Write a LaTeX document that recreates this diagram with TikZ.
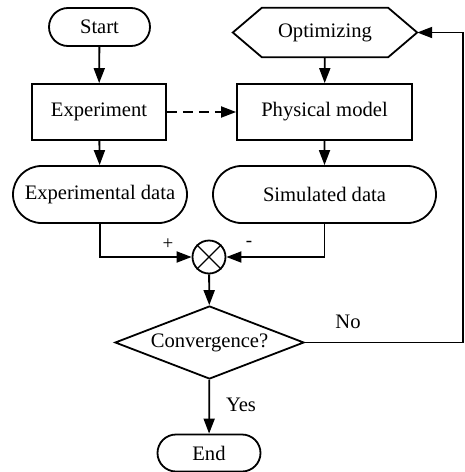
\documentclass[tikz,border=0pt]{standalone}
\usepackage{fontspec}
\setmainfont{Liberation Serif}
\usetikzlibrary{arrows.meta,shapes.misc,shapes.geometric}
\tikzset{
  base/.style={draw, line width=1.8pt, inner sep=0pt, font=\fontsize{20.6}{24}\selectfont},
  pill/.style={base, rounded rectangle},
  boxnode/.style={base, rectangle},
  flow/.style={line width=1.8pt, -{Triangle[length=15pt,width=11pt]}},
  lbl/.style={font=\fontsize{20.6}{24}\selectfont, inner sep=0pt},
  sgn/.style={font=\fontsize{19}{22}\selectfont, inner sep=0pt}
}
\begin{document}
\begin{tikzpicture}[x=1pt,y=-1pt]
\useasboundingbox (0,0) rectangle (464,472);

% terminals and process boxes
\node[pill, minimum width=101pt, minimum height=38pt] (start) at (99.5,27) {Start};
\node[boxnode, minimum width=134pt, minimum height=56pt] (exp) at (99,112) {Experiment};
\node[pill, minimum width=174pt, minimum height=57pt] (expdata) at (100,194.5) {Experimental data};

\node[lbl, minimum width=184pt, minimum height=49pt] (opt) at (325,32.5) {Optimizing};
\draw[line width=1.8pt, line join=miter]
  (opt.west) -- ([xshift=29pt]opt.north west) -- ([xshift=-29pt]opt.north east)
  -- (opt.east) -- ([xshift=-29pt]opt.south east) -- ([xshift=29pt]opt.south west) -- cycle;
\node[boxnode, minimum width=175pt, minimum height=56pt] (phys) at (324.5,112) {Physical model};
\node[pill, minimum width=223pt, minimum height=57pt] (simdata) at (324.5,194.5) {Simulated data};

% comparator
\node[draw, circle, line width=1.8pt, minimum size=33pt, inner sep=0pt] (sum) at (209,257) {};
\draw[line width=1.4pt] (sum.north west) -- (sum.south east) (sum.north east) -- (sum.south west);

% decision and end
\node[base, diamond, aspect=2.59, minimum width=189pt, minimum height=73pt] (conv) at (209.5,342.5) {Convergence?};
\node[pill, minimum width=103pt, minimum height=37pt] (end) at (209,453) {End};

% connectors
\draw[flow] (start) -- (exp);
\draw[flow] (exp) -- (expdata);
\draw[flow] (opt) -- (phys);
\draw[flow] (phys) -- (simdata);
\draw[flow, dash pattern=on 10pt off 6pt] (exp) -- (phys);
\draw[flow] (expdata.south) |- (sum.west);
\draw[flow] (simdata.south) |- (sum.east);
\draw[flow] (sum) -- (conv);
\draw[flow] (conv) -- (end);
\coordinate (loop) at (463,342.5);
\draw[flow] (conv.east) -- (loop) |- (opt.east);

% labels
\node[sgn] (plus) at (168,244) {+};
\node[sgn] (minus) at (249,244) {-};
\node[lbl] (yes) at (241,405) {Yes};
\node[lbl] (no) at (348,322) {No};
\end{tikzpicture}
\end{document}
